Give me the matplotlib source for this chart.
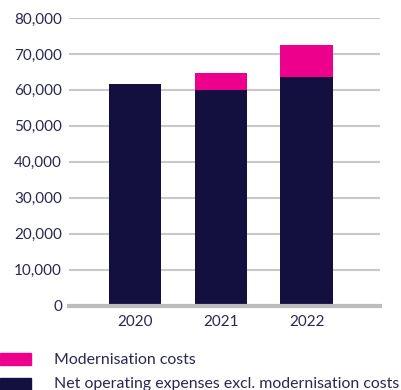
import matplotlib
matplotlib.use("Agg")
import matplotlib.pyplot as plt
from matplotlib.patches import Rectangle
from matplotlib.ticker import FuncFormatter

years = ["2020", "2021", "2022"]
net_operating = [61700, 60000, 63700]
modernisation = [0, 4800, 8800]

PINK = "#EC008C"
NAVY = "#13103F"
TEXT = "#2a2850"

plt.rcParams["font.family"] = ["Lato", "DejaVu Sans"]

fig = plt.figure(figsize=(4.02, 3.90), dpi=100)
ax = fig.add_axes([69/402, 1-305.5/390, (380-69)/402, (305.5-18)/390])

x = range(len(years))
ax.bar(x, net_operating, width=0.61, color=NAVY, zorder=3)
ax.bar(x, modernisation, bottom=net_operating, width=0.61, color=PINK, zorder=3)

ax.set_ylim(0, 80000)
ax.set_xlim(-0.77, 2.855)
ax.set_yticks(range(0, 80001, 10000))
ax.yaxis.set_major_formatter(FuncFormatter(lambda v, p: f"{int(v):,}"))
ax.set_xticks(list(x))
ax.set_xticklabels(years)
ax.grid(axis="y", color="#c8c8c8", linewidth=1.5, zorder=0)
for s in ["top", "right", "left"]:
    ax.spines[s].set_visible(False)
ax.spines["bottom"].set_color("#bdbdbd")
ax.spines["bottom"].set_linewidth(3)
ax.spines["bottom"].set_zorder(4)
ax.tick_params(axis="both", length=0, labelsize=11, colors=TEXT)
ax.tick_params(axis="y", pad=5)
ax.tick_params(axis="x", pad=7)

# legend
fig.patches.append(Rectangle((0, 1-365/390), 31/402, 12/390, transform=fig.transFigure,
                             color=PINK, figure=fig))
fig.patches.append(Rectangle((0, 1-390/390), 31/402, 12/390, transform=fig.transFigure,
                             color=NAVY, figure=fig))
fig.text(54/402, 1-360/390, "Modernisation costs", fontsize=11.4, color=TEXT, va="center")
fig.text(54/402, 1-384/390, "Net operating expenses excl. modernisation costs",
         fontsize=11.4, color=TEXT, va="center")

fig.savefig("out.png", dpi=100)
